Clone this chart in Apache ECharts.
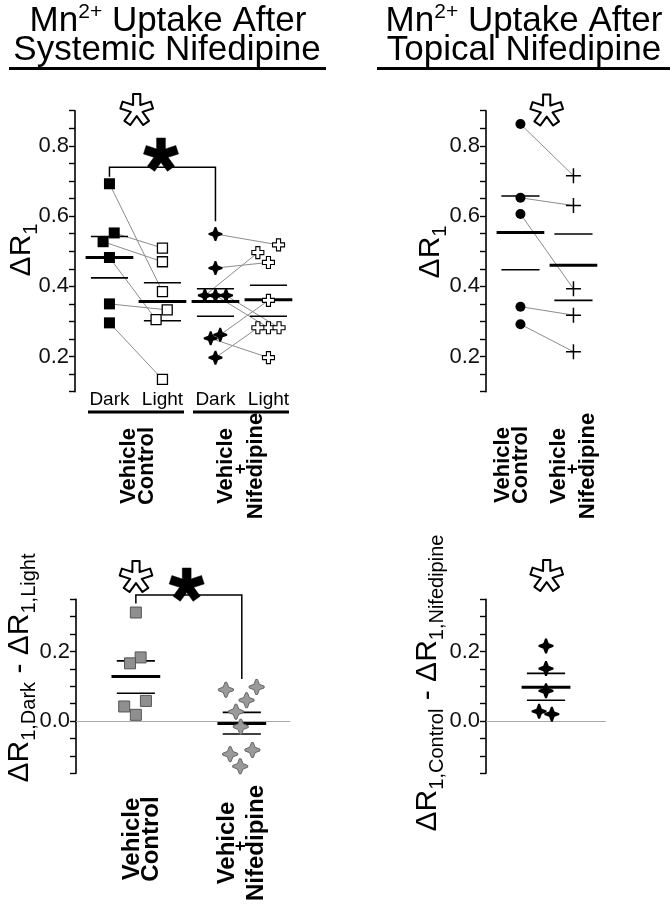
<!DOCTYPE html>
<html><head><meta charset="utf-8">
<script src="https://cdn.jsdelivr.net/npm/echarts/dist/echarts.min.js"></script>
<style>html,body{margin:0;padding:0;background:#fff}#c{width:672px;height:905px}</style>
</head><body><div id="c"></div>
<script>
// ---------------- DATA ----------------
// Systemic nifedipine panel: paired ΔR1 (Dark -> Light), index i of Dark pairs with index i of Light
const sysCategories = ['Dark', 'Light', 'Dark', 'Light'];
const sysCtrlDark  = [0.692, 0.552, 0.527, 0.482, 0.350, 0.296];
const sysCtrlLight = [0.385, 0.509, 0.470, 0.305, 0.333, 0.135];
const sysNifDark   = [0.549, 0.452, 0.374, 0.374, 0.374, 0.262, 0.252, 0.197];
const sysNifLight  = [0.518, 0.468, 0.496, 0.282, 0.282, 0.360, 0.197, 0.282];
const sysMean  = [0.482, 0.357, 0.357, 0.362];
const sysSemHi = [0.542, 0.410, 0.393, 0.403];
const sysSemLo = [0.424, 0.302, 0.315, 0.315];

// Topical nifedipine panel: paired ΔR1 (Control -> Nifedipine)
const topCtrl  = [0.862, 0.652, 0.606, 0.342, 0.292];
const topNif   = [0.715, 0.630, 0.393, 0.318, 0.214];
const topMean  = [0.553, 0.460];
const topSemHi = [0.657, 0.549];
const topSemLo = [0.447, 0.360];

// Differences, systemic: ΔR1,Dark - ΔR1,Light
const diffCtrl  = [0.312, 0.183, 0.166, 0.058, 0.042, 0.018];
const diffNif   = [0.090, 0.098, 0.060, 0.027, -0.016, -0.095, -0.083, -0.130];
const diffMean  = [0.128, -0.007];
const diffSemHi = [0.173, 0.025];
const diffSemLo = [0.080, -0.037];

// Differences, topical: ΔR1,Control - ΔR1,Nifedipine
const topDiff      = [0.216, 0.151, 0.087, 0.028, 0.020];
const topDiffMean  = [0.097];
const topDiffSemHi = [0.137];
const topDiffSemLo = [0.060];

// tick labels
const ticksUpper = [0.2, 0.4, 0.6, 0.8];
const ticksLower = [0.0, 0.2];

// ---------------- LAYOUT (not data) ----------------
const FONT = "'Liberation Sans', Arial, Helvetica, sans-serif";
const POS = [0.65, 1.65, 2.65, 3.65];      // column positions, upper panels
const DPOS = [1.13, 3.13];                  // column positions, lower panels
const JIT = {
  sysCtrlDark:  [0, 0.09, -0.12, 0, 0, 0],
  sysCtrlLight: [0, 0, 0, -0.12, 0.09, 0],
  sysNifDark:   [0, 0, -0.2, 0, 0.2, 0.09, -0.09, 0],
  sysNifLight:  [0.19, 0, -0.2, 0, 0.2, 0, 0, -0.2],
  diffCtrl:     [0, 0.09, -0.11, 0.19, -0.22, 0],
  diffNif:      [-0.3, 0.28, 0.09, -0.11, -0.02, -0.22, 0.2, -0.03],
  topDiff:      [0, 0, 0, -0.13, 0.11]
};
const GRIDS = [
  {left: 75,  top: 110.7, width: 222.6, height: 281, xmax: 4.2},
  {left: 486, top: 110.7, width: 116.6, height: 281, xmax: 2.2},
  {left: 76,  top: 599.3, width: 214,   height: 174, xmax: 4.04},
  {left: 486, top: 599.3, width: 120,   height: 174, xmax: 2.26}
];
const TPLUS = 'path://M-1.2,-10 L1.2,-10 L3.6,-3.6 L10,-1.2 L10,1.2 L3.6,3.6 L1.2,10 L-1.2,10 L-3.6,3.6 L-10,1.2 L-10,-1.2 L-3.6,-3.6 Z';
const PLUSFAT = 'path://M-3.4,-10 L3.4,-10 L3.4,-3.4 L10,-3.4 L10,3.4 L3.4,3.4 L3.4,10 L-3.4,10 L-3.4,3.4 L-10,3.4 L-10,-3.4 L-3.4,-3.4 Z';
const PLUSTHIN = 'path://M0,-10 L0,10 M-10,0 L10,0';

function pts(vals, pos, jit) { return vals.map((v, i) => [pos + (jit ? jit[i] : 0), v]); }
function pairs(a, pa, ja, b, pb, jb) {
  return a.map((v, i) => ({coords: [[pa + (ja ? ja[i] : 0), v], [pb + (jb ? jb[i] : 0), b[i]]]}));
}
function scatter(g, data, symbol, size, style, z) {
  return {type: 'scatter', xAxisIndex: g, yAxisIndex: g, data, symbol, symbolSize: size,
    itemStyle: Object.assign({opacity: 1}, style), z: z || 5, silent: true, clip: false};
}
function linesS(g, data, color, width, poly, z) {
  return {type: 'lines', coordinateSystem: 'cartesian2d', xAxisIndex: g, yAxisIndex: g, clip: false,
    polyline: !!poly, data, lineStyle: {color, width, opacity: 1}, z: z || 2, silent: true, effect: {show: false}};
}
function hbar(g, positions, values, half, width) {
  return {type: 'custom', xAxisIndex: g, yAxisIndex: g, z: 4, silent: true, clip: false,
    data: values.map((v, i) => [positions[i], v]),
    renderItem: (params, api) => {
      const x = api.value(0), y = api.value(1);
      const a = api.coord([x - half, y]), b = api.coord([x + half, y]);
      return {type: 'line', shape: {x1: a[0], y1: a[1], x2: b[0], y2: b[1]},
        style: {stroke: '#000', lineWidth: width}};
    }};
}
function yAx(g, min, max, labels) {
  return {gridIndex: g, type: 'value', min, max, interval: 0.05,
    axisLine: {show: true, onZero: false, lineStyle: {color: '#000', width: 1.6}},
    axisTick: {show: true, length: 6, lineStyle: {color: '#000', width: 1.4}},
    splitLine: {show: false},
    axisLabel: {show: true, margin: 6, fontSize: 22, fontFamily: FONT, color: '#111',
      formatter: v => labels.some(l => Math.abs(l - v) < 1e-6) ? v.toFixed(1) : ''}};
}
function px(g, pos) { const G = GRIDS[g]; return G.left + pos / G.xmax * G.width; }

function asterisk(cx, cy, r, h, fill, stroke, lw) {
  const p = [];
  const d = h / Math.sin(Math.PI / 5);
  for (let k = 0; k < 5; k++) {
    const t = -Math.PI / 2 + k * 2 * Math.PI / 5;
    const ti = t - Math.PI / 5;
    p.push([cx + d * Math.cos(ti), cy + d * Math.sin(ti)]);
    const ux = Math.cos(t), uy = Math.sin(t), nx = -Math.sin(t), ny = Math.cos(t);
    p.push([cx + r * ux - h * nx, cy + r * uy - h * ny]);
    p.push([cx + r * ux + h * nx, cy + r * uy + h * ny]);
  }
  return {type: 'polygon', shape: {points: p}, style: {fill, stroke, lineWidth: lw, lineJoin: 'round'}, z: 100};
}
function txt(x, y, text, size, opts) {
  opts = opts || {};
  return {type: 'text', x, y, rotation: opts.rot ? Math.PI / 2 : 0, z: 100,
    style: {text, fontSize: size, fontWeight: opts.bold ? 'bold' : 'normal', fontFamily: FONT, fill: '#000',
      align: 'center', textAlign: 'center', verticalAlign: 'middle', textVerticalAlign: 'middle',
      rich: opts.rich}};
}
function hline(x1, x2, y, w) {
  return {type: 'line', shape: {x1, y1: y, x2, y2: y}, style: {stroke: '#000', lineWidth: w}, z: 100};
}
const subRich = {
  m: {fontSize: 30, fontFamily: FONT, fill: '#000', lineHeight: 38, verticalAlign: 'middle'},
  s: {fontSize: 20, fontFamily: FONT, fill: '#000', lineHeight: 20, verticalAlign: 'bottom'}
};
const titleRich = {
  a: {fontSize: 35, fontFamily: FONT, fill: '#000', lineHeight: 38},
  s: {fontSize: 21, fontFamily: FONT, fill: '#000', verticalAlign: 'top', lineHeight: 21}
};

// ---------------- SERIES ----------------
const series = [
  // upper-left: paired lines
  linesS(0, pairs(sysCtrlDark, POS[0], JIT.sysCtrlDark, sysCtrlLight, POS[1], JIT.sysCtrlLight), '#8c8c8c', 1),
  linesS(0, pairs(sysNifDark, POS[2], JIT.sysNifDark, sysNifLight, POS[3], JIT.sysNifLight), '#8c8c8c', 1),
  hbar(0, POS, sysMean, 0.45, 3),
  hbar(0, POS, sysSemHi, 0.35, 1.6),
  hbar(0, POS, sysSemLo, 0.35, 1.6),
  scatter(0, pts(sysCtrlDark, POS[0], JIT.sysCtrlDark), 'rect', 11, {color: '#000'}),
  scatter(0, pts(sysCtrlLight, POS[1], JIT.sysCtrlLight), 'rect', 10, {color: '#fff', borderColor: '#000', borderWidth: 1.3}),
  scatter(0, pts(sysNifDark, POS[2], JIT.sysNifDark), TPLUS, 14, {color: '#000'}),
  scatter(0, pts(sysNifLight, POS[3], JIT.sysNifLight), PLUSFAT, 12, {color: '#fff', borderColor: '#000', borderWidth: 1.1}),
  // bracket upper-left
  linesS(0, [{coords: [[POS[0], 0.712], [POS[0], 0.739], [POS[2], 0.739], [POS[2], 0.585]]}], '#000', 1.5, true, 3),

  // upper-right
  linesS(1, pairs(topCtrl, POS[0], null, topNif, POS[1], null), '#8c8c8c', 1),
  hbar(1, POS.slice(0, 2), topMean, 0.45, 3),
  hbar(1, POS.slice(0, 2), topSemHi, 0.36, 1.6),
  hbar(1, POS.slice(0, 2), topSemLo, 0.36, 1.6),
  scatter(1, pts(topCtrl, POS[0]), 'circle', 10, {color: '#000'}),
  scatter(1, pts(topNif, POS[1]), PLUSTHIN, 15, {color: 'rgba(0,0,0,0)', borderColor: '#000', borderWidth: 1.5}),

  // lower-left
  linesS(2, [{coords: [[0, 0], [GRIDS[2].xmax, 0]]}], '#a8a8a8', 1.2, false, 1),
  hbar(2, DPOS, diffMean, 0.46, 3),
  hbar(2, DPOS, diffSemHi, 0.36, 1.6),
  hbar(2, DPOS, diffSemLo, 0.36, 1.6),
  scatter(2, pts(diffCtrl, DPOS[0], JIT.diffCtrl), 'rect', 11, {color: '#8f8f8f', borderColor: '#555', borderWidth: 1}),
  scatter(2, pts(diffNif, DPOS[1], JIT.diffNif), TPLUS, 15, {color: '#9a9a9a', borderColor: '#666', borderWidth: 1}),
  linesS(2, [{coords: [[DPOS[0], 0.338], [DPOS[0], 0.362], [DPOS[1], 0.362], [DPOS[1], 0.121]]}], '#000', 1.5, true, 3),

  // lower-right
  linesS(3, [{coords: [[0, 0], [GRIDS[3].xmax, 0]]}], '#a8a8a8', 1.2, false, 1),
  hbar(3, [DPOS[0]], topDiffMean, 0.46, 3),
  hbar(3, [DPOS[0]], topDiffSemHi, 0.36, 1.6),
  hbar(3, [DPOS[0]], topDiffSemLo, 0.36, 1.6),
  scatter(3, pts(topDiff, DPOS[0], JIT.topDiff), TPLUS, 15, {color: '#000'})
];

// ---------------- GRAPHIC (titles, labels, annotations) ----------------
const graphic = [
  txt(168, 21, '{a|Mn}{s|2+}{a| Uptake After}', 35, {rich: titleRich}),
  txt(167, 50, '{a|Systemic Nifedipine}', 35, {rich: titleRich}),
  hline(9, 326, 68.5, 3),
  txt(524, 21, '{a|Mn}{s|2+}{a| Uptake After}', 35, {rich: titleRich}),
  txt(524, 50, '{a|Topical Nifedipine}', 35, {rich: titleRich}),
  hline(377, 670, 68.5, 3),

  // axis names
  txt(22, 250, '{m|ΔR}{s|1}', 30, {rot: true, rich: subRich}),
  txt(431, 252, '{m|ΔR}{s|1}', 30, {rot: true, rich: subRich}),
  txt(20, 668, '{m|ΔR}{s|1,Dark}{m| - ΔR}{s|1,Light}', 30, {rot: true, rich: subRich}),
  txt(428, 683, '{m|ΔR}{s|1,Control}{m| - ΔR}{s|1,Nifedipine}', 30, {rot: true, rich: subRich}),

  // Dark / Light
  ...sysCategories.map((c, i) => txt(px(0, POS[i]), 400, c, 19)),
  hline(88, 184, 412, 3),
  hline(193, 289, 412, 3),

  // group labels (rotated)
  txt(129, 466, 'Vehicle', 22, {rot: true, bold: true}),
  txt(147, 466, 'Control', 22, {rot: true, bold: true}),
  txt(226, 466, 'Vehicle', 22, {rot: true, bold: true}),
  txt(241.5, 469, '+', 18, {rot: true, bold: true}),
  txt(256, 466, 'Nifedipine', 22, {rot: true, bold: true}),

  txt(503, 465, 'Vehicle', 22, {rot: true, bold: true}),
  txt(521, 465, 'Control', 22, {rot: true, bold: true}),
  txt(559, 466, 'Vehicle', 22, {rot: true, bold: true}),
  txt(573, 469, '+', 18, {rot: true, bold: true}),
  txt(588, 466, 'Nifedipine', 22, {rot: true, bold: true}),

  txt(132, 839, 'Vehicle', 24, {rot: true, bold: true}),
  txt(151, 839, 'Control', 24, {rot: true, bold: true}),
  txt(227, 843, 'Vehicle', 24, {rot: true, bold: true}),
  txt(241.5, 846, '+', 18, {rot: true, bold: true}),
  txt(256, 843, 'Nifedipine', 24, {rot: true, bold: true}),

  // significance asterisks
  asterisk(136.7, 110, 16, 3.6, '#fff', '#000', 2),
  asterisk(161, 155, 17, 4.4, '#000', '#000', 0.5),
  asterisk(546.7, 110.5, 16, 3.6, '#fff', '#000', 2),
  asterisk(136, 577, 16, 3.6, '#fff', '#000', 2),
  asterisk(186.7, 585, 17, 4.4, '#000', '#000', 0.5),
  asterisk(546.7, 576, 16, 3.6, '#fff', '#000', 2)
];

const chart = echarts.init(document.getElementById('c'), null, {renderer: 'canvas'});
chart.setOption({
  animation: false,
  backgroundColor: '#fff',
  grid: GRIDS.map(g => ({left: g.left, top: g.top, width: g.width, height: g.height, containLabel: false})),
  xAxis: GRIDS.map((g, i) => ({gridIndex: i, type: 'value', min: 0, max: g.xmax, show: false})),
  yAxis: [
    yAx(0, 0.1, 0.9, ticksUpper),
    yAx(1, 0.1, 0.9, ticksUpper),
    yAx(2, -0.15, 0.35, ticksLower),
    yAx(3, -0.15, 0.35, ticksLower)
  ],
  series,
  graphic
});
</script></body></html>
